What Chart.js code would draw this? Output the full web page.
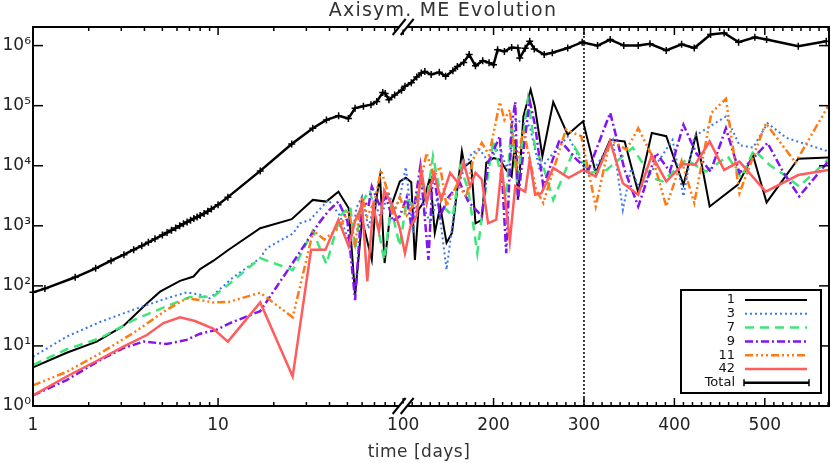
<!DOCTYPE html>
<html>
<head>
<meta charset="utf-8">
<script src="https://cdn.jsdelivr.net/npm/chart.js@4.4.0/dist/chart.umd.min.js"></script>
<style>
html, body { margin: 0; padding: 0; background: #fff; }
</style>
</head>
<body>
<canvas id="meChart" width="831" height="463"></canvas>
<script>
// ---- data (days, magnetic energy) ----
const m1Days = [1,1.52,2.21,3.08,4.12,4.86,6.23,7.37,8.0,9.4,11.4,16.9,25,32.5,38.4,44.7,50.8,55,60,67.7,71,75,79.4,86,96,103,109,113,117,122,130,135,141,148,154,165,168,175,180,187,192,200,207,214,220,224,227,233,241,245.6,254,266,282,299,313,329,345,360,375,391,410,424,439,470,487,502,537,570];
const m1Vals = [4.4,7.7,11.8,21.5,51,80,121,143,190,260,400,910,1290,2700,2530,3700,1960,70,1260,270,2400,6600,240,2100,5500,6300,5300,270,1850,2400,6600,760,2100,520,760,17400,9700,11700,1100,1260,11300,13400,12600,8500,6600,27000,2700,66000,185000,98000,14400,115000,33000,55000,7600,27000,25400,3600,35000,31000,4800,33000,2100,4800,14700,2450,13100,13700];

const m3Days = [1,1.52,2.3,3.79,5.28,6.77,8.0,9.0,12.1,16.9,18.3,25.5,27.7,31.4,39.5,45.7,51.8,56,60,65,70,76,83,90,96,103,111,116.6,123,130,138,148,160,168,176,185,194,207,214,218,225,240,251,266,282.5,297,306,332,343,352,362,371,398,410,422,457,472,487,503,524,570];
const m3Vals = [6.6,14.3,25,44,62,78,71,62,140,290,425,750,1100,1260,2700,1450,455,2000,3100,900,2500,1300,3700,1800,3000,9500,760,3500,2000,1100,3000,185,4500,9000,16300,18500,11700,21000,9200,12600,58000,46000,8500,16300,31000,11700,6600,27000,1850,9000,4000,6600,27000,3100,31000,66000,22000,20000,51000,29000,17400];

const m7Days = [1,1.52,2.3,3.5,5.28,7.06,9.4,11.6,16.9,25.3,32.5,38.5,42,46,51.8,55,60,66,72,79,86,96,104,113,119,126,133,144,155,163,172,182,189,200,207,214,220,226,238,246,255,266,290,306,325,354,375,387,413,435,459,474,488,505,524,538,570];
const m7Vals = [4.8,8.8,13.4,27,46,65,66,110,290,183,820,230,590,1500,2100,400,2500,3900,1200,270,2000,455,2700,2100,6600,2500,14400,2100,1450,9700,4000,350,2400,27000,8000,3000,51000,5000,125000,20000,9700,2700,20000,7600,8500,20000,6300,5500,12600,8000,14400,6300,18500,10400,6600,4500,12600];

const m9Days = [1,1.52,2.3,3.08,3.95,5.28,6.77,8,9.8,11.6,16.9,25.5,35,40,44.7,50,55,60,65,67.7,75,81,88,96,104,109,119,128,133,141,150,163,172,187,194,207,214,220,224,227,235,240,246,255,273,292,305,329,345,360,380,395,410,424,440,457,472,503,520,538,570];
const m9Vals = [1.5,2.7,5.8,9.2,11.8,10.8,12.6,16,18.5,24,38,250,1100,1850,2530,1200,58,2700,2100,4500,2100,3100,1200,1450,3000,970,9700,270,8500,1450,3000,5100,2530,1450,11300,31000,350,46000,115000,2700,31000,120000,46000,4500,27000,12600,8500,76000,8500,2100,16300,8000,48000,16300,8000,42000,7600,24000,8000,3100,11700];

const m11Days = [1,1.52,2.3,3.5,5.28,6.77,8,9.4,11.4,16.9,25.3,32.7,37.5,45.7,50.8,55,60,64,70,76,81,88,96,104,115,126,134,141,148,160,170,177,187,195,207,212,218,225,233,247,255,280,297,313,329,347,360,375,391,408,422,441,457,472,501,534,570];
const m11Vals = [2.2,3.7,7.5,16.6,40,62,58,53,54,77,30,830,590,970,1850,500,3000,1450,2500,8500,4500,1500,3000,1500,2700,16300,6600,9700,2100,5000,3000,12600,24000,15000,115000,58000,86000,9700,40000,4000,2400,40000,31000,2100,27000,18500,42000,15000,2100,12000,2400,76000,130000,3500,51000,11300,98000];

const m42Days = [1,1.52,2.3,3.08,4.12,5.07,6.23,7.5,9.4,11.3,16.9,25.3,31.8,38,44.7,50.8,55,60,64,69,74,79,88,96,102,108,115,120,126,134,142,152,161,167,174,180,187,194,203,209,218,224,235,240,246,253,266,283,299,313,329,343,360,375,391,410,423,439,455,472,501,537,570];
const m42Vals = [1.5,3.1,6.0,9.7,15.2,24,30,26,19.5,11.8,53,3.1,400,400,1260,455,1200,2200,120,2100,800,3900,2100,900,350,970,1450,8500,2400,7600,2700,7600,5100,11300,4500,7600,5900,1100,1260,9700,550,4600,3700,12600,3300,3500,9200,6300,8500,6600,25400,5100,3300,15000,5500,10700,10400,25400,8500,11700,3700,7000,8500];

const totalDays = [1,1.16,1.69,2.18,2.64,3.1,3.5,3.87,4.2,4.56,5.0,5.3,5.6,5.9,6.2,6.5,6.8,7.1,7.4,7.7,8.0,8.4,8.8,9.2,10,11.3,16.9,25,32.5,38.5,44.8,50.6,55,61,67,72,77.6,80,83.8,90,98,102,109,115,120,124,131,140,147,155,160,167,173,180,188,195,200,204.5,212,220,227,229,235,240,245,256,265,282,298,315,329,344,360,373,391,408,422,440,455,471,489,502,537,568];
const totalVals = [78,90,139,196,262,330,400,464,530,608,700,770,840,920,1000,1080,1160,1240,1320,1400,1480,1600,1750,1900,2250,3000,8200,23000,42000,58000,68000,61000,91000,98000,104000,117000,166000,160000,126000,150000,180000,210000,240000,300000,350000,370000,330000,360000,310000,380000,450000,525000,710000,460000,560000,520000,480000,850000,800000,930000,910000,620000,900000,1180000,880000,710000,760000,910000,1140000,1000000,1260000,1000000,1000000,1070000,830000,1050000,910000,1530000,1620000,1140000,1380000,1260000,980000,1180000];

// ---- axis ticks ----
const xLabeledTicks = [1, 10, 100, 200, 300, 400, 500];
const xMinorLogTicks = [2,3,4,5,6,7,8,9,20,30,40,50,60,70,80,90];
const yTickValues = [1, 10, 100, 1e3, 1e4, 1e5, 1e6];
const yTickLabels = ['10\u2070','10\u00b9','10\u00b2','10\u00b3','10\u2074','10\u2075','10\u2076'];
const markerDay = 300;

// log section 1..100, then linear 100..571
const X_MIN = 1, X_BREAK = 100, X_MAX = 571;
const LOG_SHARE = 0.465;

const xTickValues = [1, ...xMinorLogTicks.slice(0, 8), 10, ...xMinorLogTicks.slice(8), 100];
for (let d = 110; d <= 570; d += 10) xTickValues.push(d);

class BrokenScale extends Chart.Scale {
  determineDataLimits() { this.min = X_MIN; this.max = X_MAX; }
  buildTicks() { return xTickValues.map(v => ({ value: v })); }
  getLabelForValue(v) { return String(v); }
  toDecimal(v) {
    if (v <= X_BREAK) return LOG_SHARE * Math.log10(v / X_MIN) / Math.log10(X_BREAK / X_MIN);
    return LOG_SHARE + (1 - LOG_SHARE) * (v - X_BREAK) / (X_MAX - X_BREAK);
  }
  getPixelForValue(v) { return this.getPixelForDecimal(this.toDecimal(v)); }
  getValueForPixel(p) {
    const d = this.getDecimalForPixel(p);
    if (d <= LOG_SHARE) return X_MIN * Math.pow(X_BREAK / X_MIN, d / LOG_SHARE);
    return X_BREAK + (d - LOG_SHARE) / (1 - LOG_SHARE) * (X_MAX - X_BREAK);
  }
}
BrokenScale.id = 'broken';
BrokenScale.defaults = {};
Chart.register(BrokenScale);

const series = [
  { label: '1',  days: m1Days,  vals: m1Vals,  color: '#000000', width: 2,   dash: [] },
  { label: '3',  days: m3Days,  vals: m3Vals,  color: '#3b78f0', width: 2,   dash: [2, 3] },
  { label: '7',  days: m7Days,  vals: m7Vals,  color: '#3ce678', width: 2.5, dash: [9, 6] },
  { label: '9',  days: m9Days,  vals: m9Vals,  color: '#8214f0', width: 2.5, dash: [8, 3, 2, 3] },
  { label: '11', days: m11Days, vals: m11Vals, color: '#ff7a12', width: 2.5, dash: [8, 3, 2, 3, 2, 3, 2, 3] },
  { label: '42', days: m42Days, vals: m42Vals, color: '#ff5c5c', width: 2.5, dash: [] },
  { label: 'Total', days: totalDays, vals: totalVals, color: '#000000', width: 2.5, dash: [], marker: true }
];

const datasets = series.map((s, i) => ({
  label: s.label,
  data: s.days.map((d, k) => ({ x: d, y: s.vals[k] })),
  borderColor: s.color,
  borderWidth: s.width,
  borderDash: s.dash,
  fill: false,
  tension: 0,
  order: series.length - 1 - i,
  pointStyle: 'cross',
  pointRadius: s.marker ? 3.5 : 0,
  pointBorderWidth: 1.5,
  pointBorderColor: s.color
}));

const tickFont = { family: 'DejaVu Sans', size: 17 };

function line(ctx, x1, y1, x2, y2) {
  ctx.beginPath(); ctx.moveTo(x1, y1); ctx.lineTo(x2, y2); ctx.stroke();
}

const framePlugin = {
  id: 'frame',
  beforeDraw(chart) {
    const ctx = chart.ctx;
    ctx.save(); ctx.fillStyle = '#fff'; ctx.fillRect(0, 0, chart.width, chart.height); ctx.restore();
  },
  afterDraw(chart) {
    const { ctx, chartArea: a, scales: { x, y } } = chart;
    ctx.save();
    ctx.strokeStyle = '#000';

    // dotted marker at day 300
    const mx = x.getPixelForValue(markerDay);
    ctx.lineWidth = 1.5; ctx.setLineDash([2, 2]);
    line(ctx, mx, a.bottom, mx, a.top);
    ctx.setLineDash([]);

    // box
    ctx.lineWidth = 2;
    ctx.strokeRect(a.left, a.top, a.right - a.left, a.bottom - a.top);

    // x ticks, inward top and bottom
    ctx.lineWidth = 1.5;
    x.ticks.forEach(t => {
      const px = x.getPixelForValue(t.value);
      const len = xLabeledTicks.includes(t.value) ? 8 : 4;
      line(ctx, px, a.bottom, px, a.bottom - len);
      line(ctx, px, a.top, px, a.top + len);
    });
    // y ticks, inward left and right
    y.ticks.forEach(t => {
      const py = y.getPixelForValue(t.value);
      line(ctx, a.left, py, a.left + 10, py);
      line(ctx, a.right, py, a.right - 10, py);
    });

    // axis break marks
    const bx = x.getPixelForValue(X_BREAK);
    [a.top, a.bottom].forEach(y0 => {
      ctx.fillStyle = '#fff';
      ctx.beginPath();
      ctx.moveTo(bx - 4 - 2, y0 + 2.5); ctx.lineTo(bx - 4 + 2, y0 - 2.5);
      ctx.lineTo(bx + 4 + 2, y0 - 2.5); ctx.lineTo(bx + 4 - 2, y0 + 2.5);
      ctx.closePath(); ctx.fill();
      ctx.lineWidth = 2;
      [-4, 4].forEach(o => line(ctx, bx + o - 6.5, y0 + 8, bx + o + 6.5, y0 - 8));
    });

    // legend
    const lx = 681, ly = 290, lw = 140, lh = 103;
    ctx.fillStyle = '#fff'; ctx.fillRect(lx, ly, lw, lh);
    ctx.lineWidth = 2; ctx.strokeRect(lx, ly, lw, lh);
    ctx.font = '13px "DejaVu Sans"';
    ctx.textAlign = 'right'; ctx.textBaseline = 'middle';
    series.forEach((s, i) => {
      const ry = ly + 10 + i * 13.8;
      ctx.fillStyle = '#111';
      ctx.fillText(s.label, lx + 54, ry);
      ctx.strokeStyle = s.color; ctx.lineWidth = s.width;
      ctx.setLineDash(s.dash);
      if (s.marker) {
        line(ctx, lx + 63, ry, lx + 128, ry);
        ctx.setLineDash([]); ctx.lineWidth = 1.5;
        line(ctx, lx + 63, ry - 3.5, lx + 63, ry + 3.5);
        line(ctx, lx + 128, ry - 3.5, lx + 128, ry + 3.5);
      } else {
        line(ctx, lx + 64, ry, lx + 126, ry);
      }
      ctx.setLineDash([]);
    });

    // titles
    ctx.fillStyle = '#333';
    ctx.textAlign = 'center'; ctx.textBaseline = 'alphabetic';
    ctx.font = '19px "DejaVu Sans"';
    ctx.letterSpacing = '1.2px';
    ctx.fillText('Axisym. ME Evolution', 443, 16);
    ctx.font = '17px "DejaVu Sans"';
    ctx.letterSpacing = '0.5px';
    ctx.fillText('time [days]', 419, 457);
    ctx.restore();
  }
};

new Chart(document.getElementById('meChart'), {
  type: 'line',
  data: { datasets },
  options: {
    responsive: false,
    animation: false,
    devicePixelRatio: 1,
    events: [],
    layout: { autoPadding: false, padding: { top: 27, right: 2, left: 0, bottom: 0 } },
    plugins: { legend: { display: false }, title: { display: false }, tooltip: { enabled: false } },
    scales: {
      x: {
        type: 'broken',
        afterFit: s => { s.height = 57; s.paddingLeft = 0; s.paddingRight = 0; },
        grid: { display: false, drawTicks: false },
        border: { display: false },
        ticks: {
          autoSkip: false, maxRotation: 0, minRotation: 0, padding: 9,
          font: tickFont, color: '#222',
          callback: v => xLabeledTicks.includes(v) ? String(v) : ''
        }
      },
      y: {
        type: 'logarithmic', min: 1, max: 2.04e6,
        afterBuildTicks: s => { s.ticks = yTickValues.map(v => ({ value: v })); },
        afterFit: s => { s.width = 33; },
        grid: { display: false, drawTicks: false },
        border: { display: false },
        ticks: {
          autoSkip: false, padding: 2, font: tickFont, color: '#222',
          callback: v => yTickLabels[yTickValues.indexOf(v)] || ''
        }
      }
    }
  },
  plugins: [framePlugin]
});
</script>
</body>
</html>
